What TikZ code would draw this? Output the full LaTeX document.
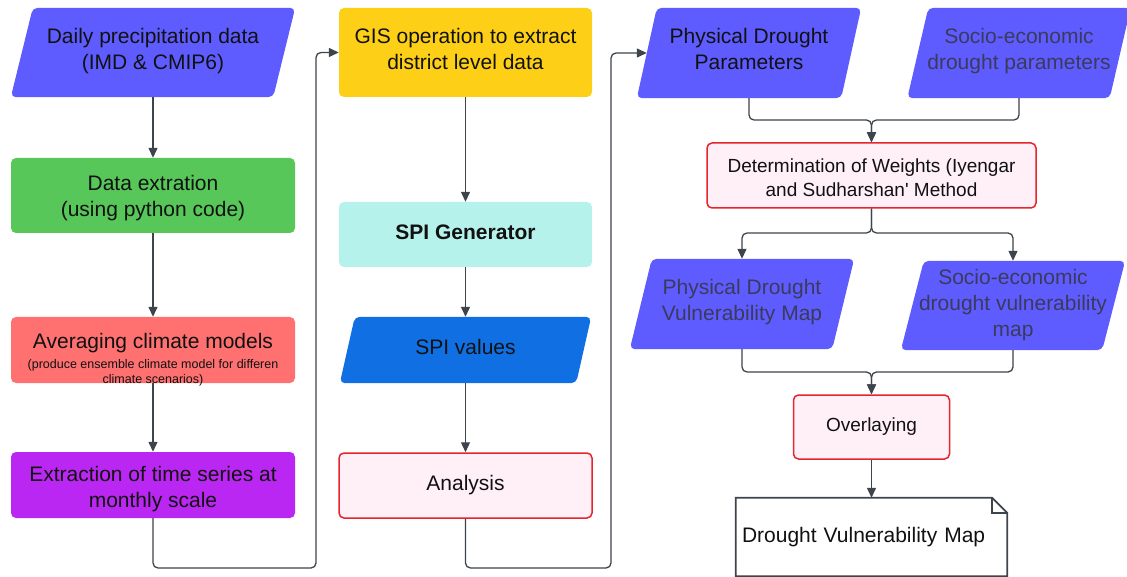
\documentclass[tikz,border=0pt]{standalone}
\usepackage{fontspec}
\setmainfont{Liberation Sans}
\usetikzlibrary{arrows.meta,calc,backgrounds}
\definecolor{cblue}{HTML}{5F5CFF}
\definecolor{cgreen}{HTML}{57C75A}
\definecolor{cred}{HTML}{FF7070}
\definecolor{cpurple}{HTML}{BB27F2}
\definecolor{cyellow}{HTML}{FDD017}
\definecolor{cteal}{HTML}{B6F2EC}
\definecolor{cspi}{HTML}{1070E3}
\definecolor{cpink}{HTML}{FFF0F8}
\definecolor{cborder}{HTML}{E4252B}
\definecolor{cline}{HTML}{3E444C}
\definecolor{cgraytext}{HTML}{3A3A5C}
\definecolor{ctext}{HTML}{111111}
\newcommand\smallfnt{\fontsize{12.5}{15}\selectfont}
\newcommand\straightquote{{\addfontfeatures{Ligatures=TeXOff}'}}
\tikzset{
  box/.style={rectangle, rounded corners=5pt, inner sep=0pt, align=center, text=ctext, font=\fontsize{21}{26}\selectfont},
  para/.style={rectangle, inner sep=0pt, align=center, text=ctext, font=\fontsize{21}{26}\selectfont},
  pinkbox/.style={box, fill=cpink, draw=cborder, line width=1.5pt, font=\fontsize{19}{24}\selectfont},
  conn/.style={draw=cline, line width=1.3pt, rounded corners=5pt},
  arr/.style={conn, -{Triangle[length=10pt,width=9pt]}},
}
\newcommand\drawpara[3]{%
  \fill[#3, rounded corners=5pt] ($(#1.north west)+(#2/2,0)$) -- ($(#1.north east)+(#2/2,0)$) -- ($(#1.south east)-(#2/2,0)$) -- ($(#1.south west)-(#2/2,0)$) -- cycle;}
\begin{document}
\begin{tikzpicture}[x=1pt,y=-1pt]
\useasboundingbox (0,0) rectangle (1127,577);
% column 1
\node[para, minimum width=262pt, minimum height=89pt, text depth=6.4pt] (n1) at (153,52.5) {Daily precipitation data\\(IMD \& CMIP6)};
\node[box, fill=cgreen, minimum width=284pt, minimum height=75pt, text height=47pt] (n2) at (153,195.5) {Data extration\\(using python code)};
\node[box, fill=cred, minimum width=284pt, minimum height=66pt, text height=66pt, text depth=-7pt] (n3) at (153,350) {Averaging climate models\\[-6pt]\smallfnt (produce ensemble climate model for differen\\[-11pt]\smallfnt climate scenarios)};
\node[box, fill=cpurple, minimum width=284pt, minimum height=66pt, text height=49.5pt] (n4) at (153,485) {Extraction of time series at\\monthly scale};
% column 2
\node[box, fill=cyellow, minimum width=253pt, minimum height=89pt, text depth=8pt] (n5) at (465.5,52.5) {GIS operation to extract\\district level data};
\node[box, fill=cteal, minimum width=253pt, minimum height=65pt, text depth=4pt, font=\fontsize{21}{26}\selectfont\bfseries] (n6) at (465.5,234.5) {SPI Generator};
\node[para, minimum width=236pt, minimum height=66pt, text depth=6pt] (n7) at (465.5,350) {SPI values};
\node[pinkbox, minimum width=253pt, minimum height=65pt, font=\fontsize{21}{26}\selectfont] (n8) at (465.5,485.5) {Analysis};
% column 3
\node[para, minimum width=204pt, minimum height=90pt, text depth=8pt] (n9) at (749,53) {Physical Drought\\Parameters};
\node[para, minimum width=202pt, minimum height=90pt, text depth=8.4pt, text=cgraytext] (n10) at (1019,53) {Socio-economic\\drought parameters};
\node[pinkbox, minimum width=329pt, minimum height=65pt, text height=42pt] (n11) at (871.5,175.5) {Determination of Weights (Iyengar\\and Sudharshan\straightquote{} Method};
\node[para, minimum width=202pt, minimum height=90pt, text depth=8.4pt, text=cgraytext] (n12) at (742,304) {Physical Drought\\Vulnerability Map};
\node[para, minimum width=201pt, minimum height=89pt, text=cgraytext] (n13) at (1013,305.5) {Socio-economic\\drought vulnerability\\map};
\node[pinkbox, minimum width=156pt, minimum height=64pt] (n14) at (871.5,427) {Overlaying};
\node[rectangle, inner xsep=6pt, inner ysep=0pt, text width=259pt, align=left, minimum height=78pt, text=ctext, font=\fontsize{21}{26}\selectfont] (n15) at (871.5,537) {Drought Vulnerability Map};
\begin{scope}[on background layer]
  \drawpara{n1}{22}{cblue}
  \drawpara{n7}{15}{cspi}
  \drawpara{n9}{20}{cblue}
  \drawpara{n10}{21}{cblue}
  \drawpara{n12}{22}{cblue}
  \drawpara{n13}{23}{cblue}
  \draw[draw=cline, line width=1.8pt, fill=white, line join=miter]
    (n15.south west) -- (n15.north west) -- ($(n15.north east)+(-15,0)$) -- ($(n15.north east)+(0,15)$) -- (n15.south east) -- cycle;
  \draw[draw=cline, line width=1.8pt] ($(n15.north east)+(-15,0)$) -- ($(n15.north east)+(-15,15)$) -- ($(n15.north east)+(0,15)$);
\end{scope}
% junction coordinates
\coordinate (c1) at (316,568);
\coordinate (c2) at (611,568);
\coordinate (j1) at (871.5,120);
\coordinate (j2) at (871.5,233);
\coordinate (j3) at (871.5,372);
% connectors
\draw[arr] (n1.south) -- (n2.north);
\draw[arr] (n2.south) -- (n3.north);
\draw[arr] (n3.south) -- (n4.north);
\draw[arr] (n4.south) |- (c1) |- (n5.west);
\draw[arr] (n5.south) -- (n6.north);
\draw[arr] (n6.south) -- (n7.north);
\draw[arr] (n7.south) -- (n8.north);
\draw[arr] (n8.south) |- (c2) |- (n9.west);
\draw[arr] (n9.south) |- (j1) -- (n11.north);
\draw[arr] (n10.south) |- (j1) -- (n11.north);
\draw[arr] (n11.south) -- (j2) -| (n12.north);
\draw[arr] (n11.south) -- (j2) -| (n13.north);
\draw[arr] (n12.south) |- (j3) -- (n14.north);
\draw[arr] (n13.south) |- (j3) -- (n14.north);
\draw[arr] (n14.south) -- (n15.north);
\end{tikzpicture}
\end{document}
